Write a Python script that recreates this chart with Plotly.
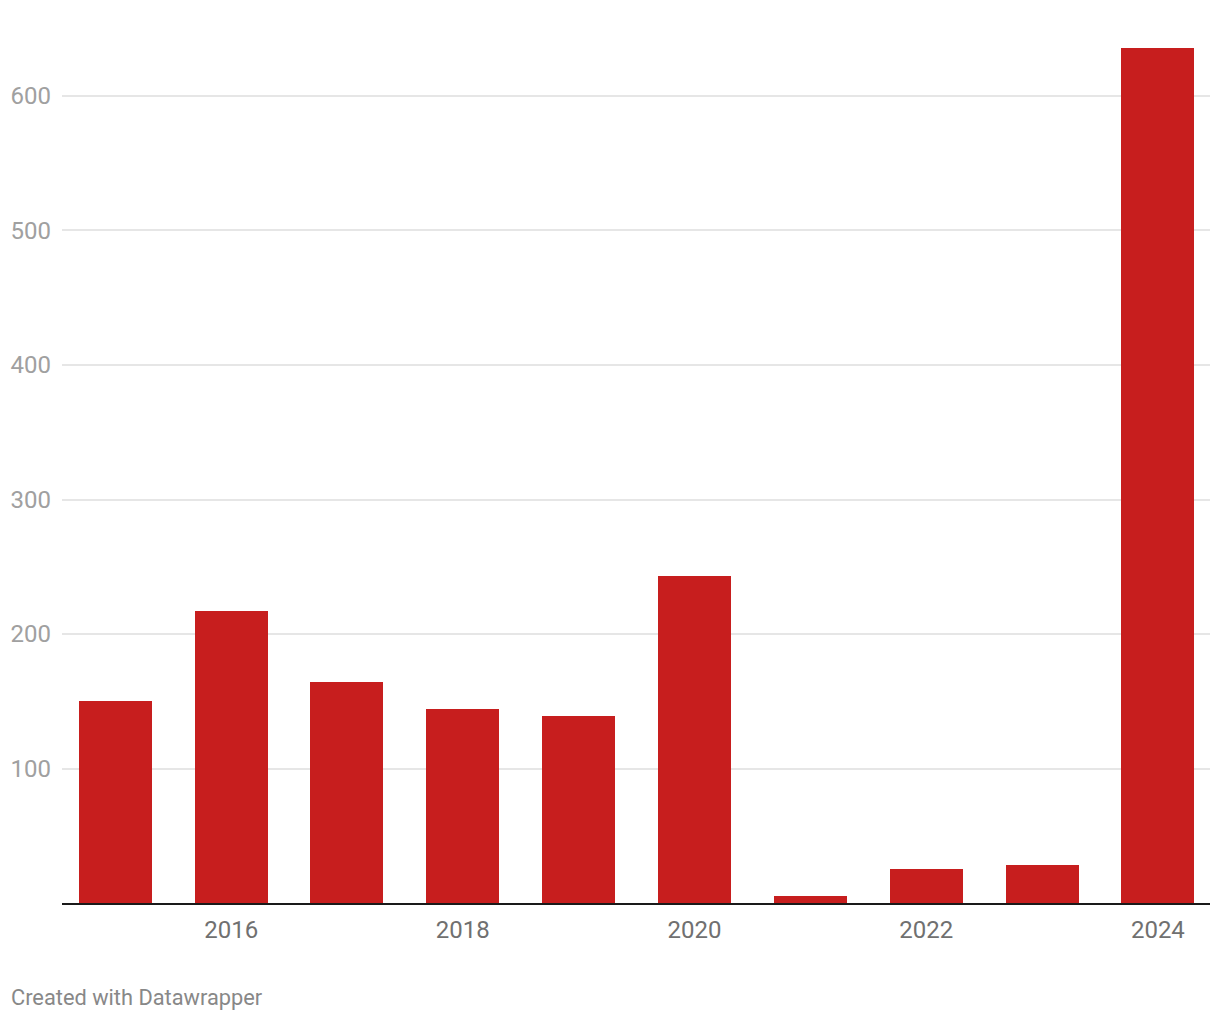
import plotly.graph_objects as go

# ── Data ─────────────────────────────────────────────────────────────────────
YEARS  = [2015, 2016, 2017, 2018, 2019, 2020, 2021, 2022, 2023, 2024]
VALUES = [150, 217, 164, 144, 139, 243, 5, 25, 28, 636]

X_TICKS = [2016, 2018, 2020, 2022, 2024]
Y_TICKS = [100, 200, 300, 400, 500, 600]

BAR_COLOR  = "#c71e1e"
GRID_COLOR = "#e6e6e6"
FONT       = "Roboto"

fig = go.Figure(go.Bar(
    x=YEARS, y=VALUES,
    marker=dict(color=BAR_COLOR, line=dict(width=0)),
    width=0.63,
    hoverinfo="x+y",
))

fig.update_layout(
    width=1212, height=1012,
    margin=dict(l=54, r=10, t=12, b=117),
    paper_bgcolor="#ffffff", plot_bgcolor="#ffffff",
    font=dict(family=FONT, size=24),
    showlegend=False,
    bargap=0,
)

fig.update_xaxes(
    range=[2014.54, 2024.45],
    tickvals=X_TICKS, ticktext=[str(t) for t in X_TICKS],
    tickfont=dict(family=FONT, size=24, color="#707070"),
    showgrid=False, zeroline=False,
    showline=True, linecolor="#1a1a1a", linewidth=2,
    ticks="", ticklabelstandoff=4,
    automargin=False,
)

fig.update_yaxes(
    range=[0, 656.5],
    tickvals=Y_TICKS, ticktext=[str(t) for t in Y_TICKS],
    tickfont=dict(family=FONT, size=24, color="#a0a0a0"),
    showgrid=True, gridcolor=GRID_COLOR, gridwidth=2,
    zeroline=False, showline=False,
    ticks="", ticklabelstandoff=10,
    automargin=False,
)

fig.add_annotation(
    text="Created with Datawrapper",
    xref="paper", yref="paper",
    x=-0.0462, y=-0.1065,
    xanchor="left", yanchor="middle",
    showarrow=False,
    font=dict(family=FONT, size=21.8, color="#888888"),
)

fig.write_html("out.html")
